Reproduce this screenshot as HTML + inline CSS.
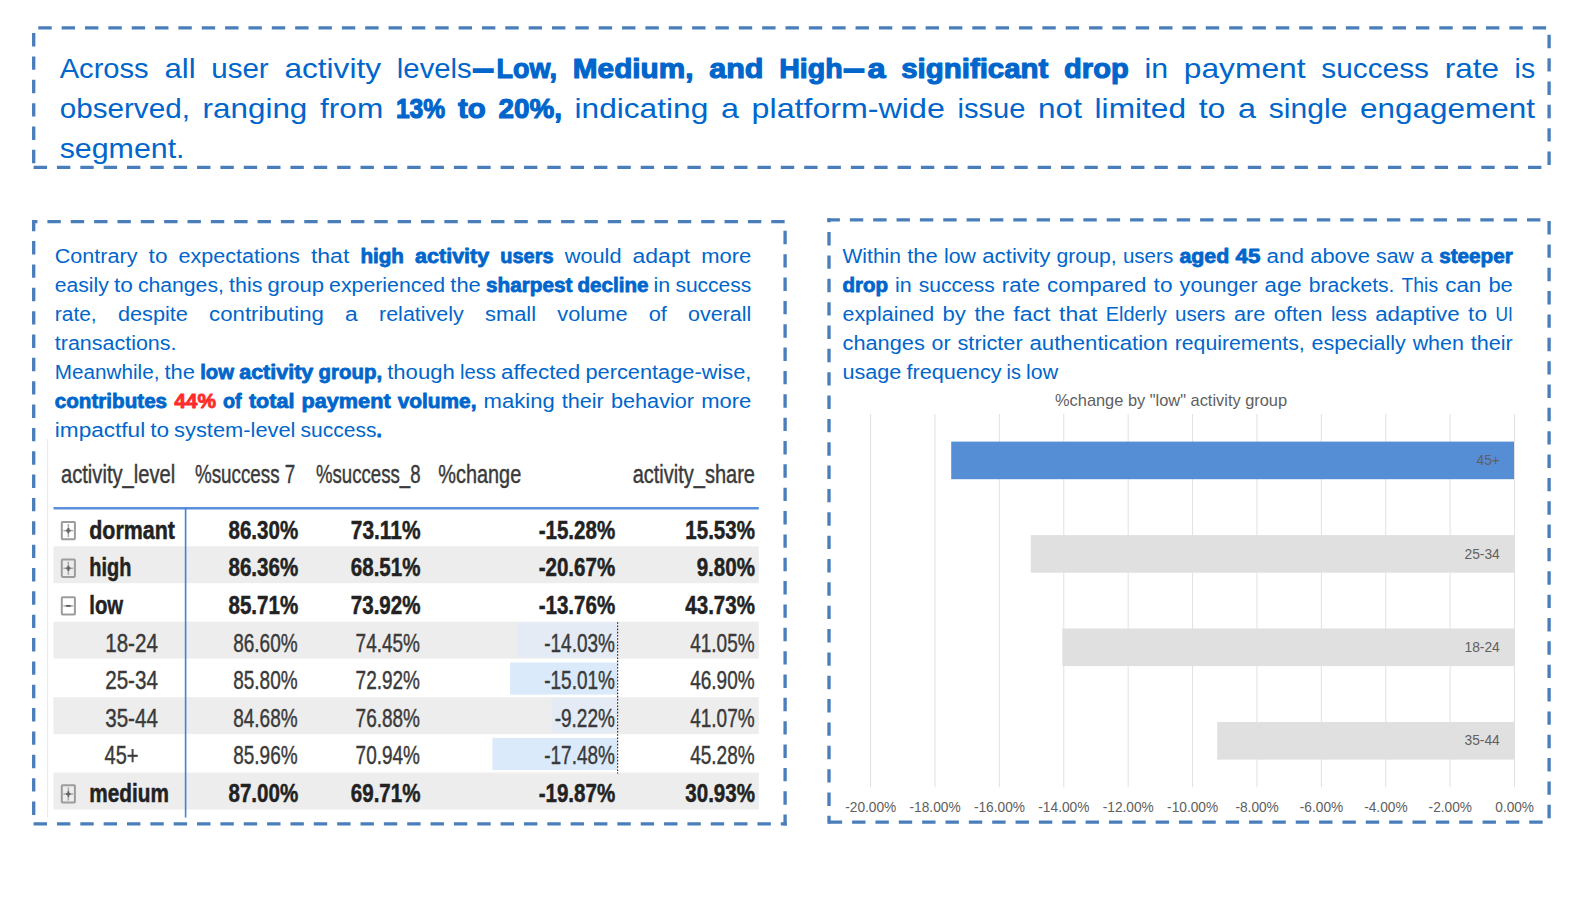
<!DOCTYPE html>
<html lang="en">
<head>
<meta charset="utf-8">
<title>Payment success rate drop by user activity level</title>
<style>
html,body{margin:0;padding:0;background:#ffffff}
body{width:1594px;height:897px;position:relative;overflow:hidden;font-family:"Liberation Sans",sans-serif}
svg{position:absolute;left:0;top:0;display:block}
.dash line{stroke:#4A7EBB;stroke-width:3.33;stroke-dasharray:13.4 9.95;fill:none}
.para text{font-family:"Liberation Sans",sans-serif;fill:#0066CC;white-space:pre}
.para .b{font-weight:700;stroke:#0066CC;stroke-width:.04em;stroke-linejoin:round}
.para .d{font-weight:700;stroke:#0066CC;stroke-width:2.2px}
.para .x{font-weight:700;fill:#FF2B2B;stroke:#FF2B2B;stroke-width:.04em;stroke-linejoin:round}
.tbl text{font-family:"Liberation Sans",sans-serif;fill:#3a3a3a;stroke:#3a3a3a;stroke-width:.45}
.tbl .bd{font-weight:700;fill:#222222;stroke:#222222;stroke-width:.5}
.chart text{font-family:"Liberation Sans",sans-serif;fill:#606060}
</style>
</head>
<body>
<svg width="1594" height="897" viewBox="0 0 1594 897">

<g class="dash">
<line x1="32.04" y1="27.90" x2="1550.76" y2="27.90" stroke-dashoffset="17.09"/>
<line x1="1549.10" y1="26.23" x2="1549.10" y2="169.06" stroke-dashoffset="14.79"/>
<line x1="32.04" y1="167.40" x2="1550.76" y2="167.40" stroke-dashoffset="21.79"/>
<line x1="33.70" y1="26.23" x2="33.70" y2="169.06" stroke-dashoffset="16.48"/>
<line x1="32.04" y1="221.60" x2="786.76" y2="221.60" stroke-dashoffset="7.99"/>
<line x1="785.10" y1="220.91" x2="785.10" y2="825.46" stroke-dashoffset="13.41"/>
<line x1="32.04" y1="823.80" x2="786.76" y2="823.80" stroke-dashoffset="21.79"/>
<line x1="33.70" y1="219.94" x2="33.70" y2="824.84" stroke-dashoffset="2.19"/>
<line x1="827.34" y1="219.90" x2="1550.34" y2="219.90" stroke-dashoffset="0.84"/>
<line x1="1549.10" y1="218.24" x2="1549.10" y2="823.71" stroke-dashoffset="20.54"/>
<line x1="827.34" y1="822.05" x2="1550.76" y2="822.05" stroke-dashoffset="21.94"/>
<line x1="829.00" y1="218.24" x2="829.00" y2="823.71" stroke-dashoffset="9.49"/>
</g>
<g class="para" font-size="28.00">
<text y="77.85"><tspan x="59.7" textLength="89.0" lengthAdjust="spacingAndGlyphs">Across</tspan> <tspan x="164.4" textLength="31.2" lengthAdjust="spacingAndGlyphs">all</tspan> <tspan x="211.2" textLength="57.5" lengthAdjust="spacingAndGlyphs">user</tspan> <tspan x="284.4" textLength="96.7" lengthAdjust="spacingAndGlyphs">activity</tspan> <tspan x="396.8" textLength="75.0" lengthAdjust="spacingAndGlyphs">levels</tspan><tspan class="d" x="473.5" textLength="19.4" lengthAdjust="spacingAndGlyphs">—</tspan><tspan class="b" x="496.6" textLength="60.5" lengthAdjust="spacingAndGlyphs">Low,</tspan> <tspan class="b" x="572.8" textLength="120.7" lengthAdjust="spacingAndGlyphs">Medium,</tspan> <tspan class="b" x="709.3" textLength="54.2" lengthAdjust="spacingAndGlyphs">and</tspan> <tspan class="b" x="779.2" textLength="63.4" lengthAdjust="spacingAndGlyphs">High</tspan><tspan class="d" x="844.2" textLength="19.4" lengthAdjust="spacingAndGlyphs">—</tspan><tspan class="b" x="867.4" textLength="18.1" lengthAdjust="spacingAndGlyphs">a</tspan> <tspan class="b" x="901.2" textLength="147.2" lengthAdjust="spacingAndGlyphs">significant</tspan> <tspan class="b" x="1064.1" textLength="64.6" lengthAdjust="spacingAndGlyphs">drop</tspan> <tspan x="1144.4" textLength="23.6" lengthAdjust="spacingAndGlyphs">in</tspan> <tspan x="1183.8" textLength="121.8" lengthAdjust="spacingAndGlyphs">payment</tspan> <tspan x="1321.3" textLength="107.7" lengthAdjust="spacingAndGlyphs">success</tspan> <tspan x="1444.7" textLength="54.2" lengthAdjust="spacingAndGlyphs">rate</tspan> <tspan x="1514.6" textLength="20.5" lengthAdjust="spacingAndGlyphs">is</tspan></text>
<text y="117.85"><tspan x="59.7" textLength="130.2" lengthAdjust="spacingAndGlyphs">observed,</tspan> <tspan x="202.6" textLength="104.7" lengthAdjust="spacingAndGlyphs">ranging</tspan> <tspan x="320.0" textLength="63.2" lengthAdjust="spacingAndGlyphs">from</tspan> <tspan class="b" x="395.9" textLength="49.3" lengthAdjust="spacingAndGlyphs">13%</tspan> <tspan class="b" x="457.9" textLength="27.8" lengthAdjust="spacingAndGlyphs">to</tspan> <tspan class="b" x="498.4" textLength="63.5" lengthAdjust="spacingAndGlyphs">20%,</tspan> <tspan x="574.5" textLength="133.8" lengthAdjust="spacingAndGlyphs">indicating</tspan> <tspan x="720.9" textLength="18.0" lengthAdjust="spacingAndGlyphs">a</tspan> <tspan x="751.6" textLength="193.2" lengthAdjust="spacingAndGlyphs">platform-wide</tspan> <tspan x="957.5" textLength="68.0" lengthAdjust="spacingAndGlyphs">issue</tspan> <tspan x="1038.1" textLength="43.8" lengthAdjust="spacingAndGlyphs">not</tspan> <tspan x="1094.6" textLength="91.4" lengthAdjust="spacingAndGlyphs">limited</tspan> <tspan x="1198.7" textLength="26.8" lengthAdjust="spacingAndGlyphs">to</tspan> <tspan x="1238.1" textLength="18.0" lengthAdjust="spacingAndGlyphs">a</tspan> <tspan x="1268.8" textLength="78.7" lengthAdjust="spacingAndGlyphs">single</tspan> <tspan x="1360.1" textLength="174.9" lengthAdjust="spacingAndGlyphs">engagement</tspan></text>
<text y="157.85"><tspan x="59.7" textLength="124.8" lengthAdjust="spacingAndGlyphs">segment.</tspan></text>
</g>
<g class="para" font-size="19.74">
<text y="262.90"><tspan x="54.8" textLength="82.7" lengthAdjust="spacingAndGlyphs">Contrary</tspan> <tspan x="148.6" textLength="18.9" lengthAdjust="spacingAndGlyphs">to</tspan> <tspan x="178.5" textLength="121.2" lengthAdjust="spacingAndGlyphs">expectations</tspan> <tspan x="310.9" textLength="38.4" lengthAdjust="spacingAndGlyphs">that</tspan> <tspan class="b" x="360.4" textLength="43.6" lengthAdjust="spacingAndGlyphs">high</tspan> <tspan class="b" x="415.1" textLength="74.1" lengthAdjust="spacingAndGlyphs">activity</tspan> <tspan class="b" x="500.3" textLength="53.2" lengthAdjust="spacingAndGlyphs">users</tspan> <tspan x="564.7" textLength="56.8" lengthAdjust="spacingAndGlyphs">would</tspan> <tspan x="632.5" textLength="57.6" lengthAdjust="spacingAndGlyphs">adapt</tspan> <tspan x="701.3" textLength="50.0" lengthAdjust="spacingAndGlyphs">more</tspan></text>
<text y="291.93"><tspan x="54.8" textLength="54.0" lengthAdjust="spacingAndGlyphs">easily</tspan> <tspan x="113.9" textLength="18.9" lengthAdjust="spacingAndGlyphs">to</tspan> <tspan x="137.9" textLength="86.0" lengthAdjust="spacingAndGlyphs">changes,</tspan> <tspan x="229.1" textLength="33.3" lengthAdjust="spacingAndGlyphs">this</tspan> <tspan x="267.5" textLength="56.5" lengthAdjust="spacingAndGlyphs">group</tspan> <tspan x="329.1" textLength="116.0" lengthAdjust="spacingAndGlyphs">experienced</tspan> <tspan x="450.3" textLength="30.5" lengthAdjust="spacingAndGlyphs">the</tspan> <tspan class="b" x="486.0" textLength="86.4" lengthAdjust="spacingAndGlyphs">sharpest</tspan> <tspan class="b" x="577.5" textLength="71.0" lengthAdjust="spacingAndGlyphs">decline</tspan> <tspan x="653.6" textLength="16.7" lengthAdjust="spacingAndGlyphs">in</tspan> <tspan x="675.4" textLength="75.9" lengthAdjust="spacingAndGlyphs">success</tspan></text>
<text y="320.96"><tspan x="54.8" textLength="41.9" lengthAdjust="spacingAndGlyphs">rate,</tspan> <tspan x="117.9" textLength="70.0" lengthAdjust="spacingAndGlyphs">despite</tspan> <tspan x="209.1" textLength="114.8" lengthAdjust="spacingAndGlyphs">contributing</tspan> <tspan x="345.1" textLength="12.7" lengthAdjust="spacingAndGlyphs">a</tspan> <tspan x="379.0" textLength="84.8" lengthAdjust="spacingAndGlyphs">relatively</tspan> <tspan x="485.0" textLength="51.1" lengthAdjust="spacingAndGlyphs">small</tspan> <tspan x="557.3" textLength="70.2" lengthAdjust="spacingAndGlyphs">volume</tspan> <tspan x="648.7" textLength="18.2" lengthAdjust="spacingAndGlyphs">of</tspan> <tspan x="688.1" textLength="63.2" lengthAdjust="spacingAndGlyphs">overall</tspan></text>
<text y="349.99"><tspan x="54.8" textLength="121.7" lengthAdjust="spacingAndGlyphs">transactions.</tspan></text>
<text y="379.02"><tspan x="54.8" textLength="104.6" lengthAdjust="spacingAndGlyphs">Meanwhile,</tspan> <tspan x="164.5" textLength="30.5" lengthAdjust="spacingAndGlyphs">the</tspan> <tspan class="b" x="200.2" textLength="33.8" lengthAdjust="spacingAndGlyphs">low</tspan> <tspan class="b" x="239.2" textLength="74.1" lengthAdjust="spacingAndGlyphs">activity</tspan> <tspan class="b" x="318.5" textLength="63.6" lengthAdjust="spacingAndGlyphs">group,</tspan> <tspan x="387.2" textLength="67.6" lengthAdjust="spacingAndGlyphs">though</tspan> <tspan x="460.0" textLength="35.9" lengthAdjust="spacingAndGlyphs">less</tspan> <tspan x="501.0" textLength="79.3" lengthAdjust="spacingAndGlyphs">affected</tspan> <tspan x="585.5" textLength="165.8" lengthAdjust="spacingAndGlyphs">percentage-wise,</tspan></text>
<text y="408.05"><tspan class="b" x="54.8" textLength="112.3" lengthAdjust="spacingAndGlyphs">contributes</tspan> <tspan class="x" x="174.2" textLength="41.8" lengthAdjust="spacingAndGlyphs">44%</tspan> <tspan class="b" x="223.0" textLength="18.7" lengthAdjust="spacingAndGlyphs">of</tspan> <tspan class="b" x="248.9" textLength="45.5" lengthAdjust="spacingAndGlyphs">total</tspan> <tspan class="b" x="301.5" textLength="89.1" lengthAdjust="spacingAndGlyphs">payment</tspan> <tspan class="b" x="397.7" textLength="78.8" lengthAdjust="spacingAndGlyphs">volume,</tspan> <tspan x="483.6" textLength="71.1" lengthAdjust="spacingAndGlyphs">making</tspan> <tspan x="561.7" textLength="42.1" lengthAdjust="spacingAndGlyphs">their</tspan> <tspan x="610.9" textLength="83.2" lengthAdjust="spacingAndGlyphs">behavior</tspan> <tspan x="701.3" textLength="50.0" lengthAdjust="spacingAndGlyphs">more</tspan></text>
<text y="437.08"><tspan x="54.8" textLength="90.4" lengthAdjust="spacingAndGlyphs">impactful</tspan> <tspan x="150.2" textLength="18.9" lengthAdjust="spacingAndGlyphs">to</tspan> <tspan x="174.1" textLength="121.4" lengthAdjust="spacingAndGlyphs">system-level</tspan> <tspan x="300.5" textLength="75.9" lengthAdjust="spacingAndGlyphs">success</tspan><tspan class="b" x="376.4" textLength="5.3" lengthAdjust="spacingAndGlyphs">.</tspan></text>
</g>
<g class="para" font-size="19.74">
<text y="262.90"><tspan x="842.5" textLength="58.5" lengthAdjust="spacingAndGlyphs">Within</tspan> <tspan x="907.2" textLength="30.5" lengthAdjust="spacingAndGlyphs">the</tspan> <tspan x="943.9" textLength="32.0" lengthAdjust="spacingAndGlyphs">low</tspan> <tspan x="982.2" textLength="68.1" lengthAdjust="spacingAndGlyphs">activity</tspan> <tspan x="1056.5" textLength="60.2" lengthAdjust="spacingAndGlyphs">group,</tspan> <tspan x="1122.9" textLength="50.3" lengthAdjust="spacingAndGlyphs">users</tspan> <tspan class="b" x="1179.4" textLength="49.8" lengthAdjust="spacingAndGlyphs">aged</tspan> <tspan class="b" x="1235.5" textLength="24.9" lengthAdjust="spacingAndGlyphs">45</tspan> <tspan x="1266.6" textLength="37.4" lengthAdjust="spacingAndGlyphs">and</tspan> <tspan x="1310.3" textLength="59.6" lengthAdjust="spacingAndGlyphs">above</tspan> <tspan x="1376.1" textLength="37.9" lengthAdjust="spacingAndGlyphs">saw</tspan> <tspan x="1420.2" textLength="12.7" lengthAdjust="spacingAndGlyphs">a</tspan> <tspan class="b" x="1439.2" textLength="73.6" lengthAdjust="spacingAndGlyphs">steeper</tspan></text>
<text y="291.93"><tspan class="b" x="842.5" textLength="45.5" lengthAdjust="spacingAndGlyphs">drop</tspan> <tspan x="895.1" textLength="16.7" lengthAdjust="spacingAndGlyphs">in</tspan> <tspan x="918.8" textLength="75.9" lengthAdjust="spacingAndGlyphs">success</tspan> <tspan x="1001.8" textLength="38.2" lengthAdjust="spacingAndGlyphs">rate</tspan> <tspan x="1047.0" textLength="99.5" lengthAdjust="spacingAndGlyphs">compared</tspan> <tspan x="1153.6" textLength="18.9" lengthAdjust="spacingAndGlyphs">to</tspan> <tspan x="1179.6" textLength="78.0" lengthAdjust="spacingAndGlyphs">younger</tspan> <tspan x="1264.6" textLength="37.1" lengthAdjust="spacingAndGlyphs">age</tspan> <tspan x="1308.8" textLength="85.7" lengthAdjust="spacingAndGlyphs">brackets.</tspan> <tspan x="1401.5" textLength="36.6" lengthAdjust="spacingAndGlyphs">This</tspan> <tspan x="1445.2" textLength="36.1" lengthAdjust="spacingAndGlyphs">can</tspan> <tspan x="1488.4" textLength="24.4" lengthAdjust="spacingAndGlyphs">be</tspan></text>
<text y="320.96"><tspan x="842.5" textLength="91.6" lengthAdjust="spacingAndGlyphs">explained</tspan> <tspan x="942.6" textLength="23.3" lengthAdjust="spacingAndGlyphs">by</tspan> <tspan x="974.4" textLength="30.5" lengthAdjust="spacingAndGlyphs">the</tspan> <tspan x="1013.3" textLength="37.1" lengthAdjust="spacingAndGlyphs">fact</tspan> <tspan x="1059.0" textLength="38.4" lengthAdjust="spacingAndGlyphs">that</tspan> <tspan x="1105.8" textLength="60.8" lengthAdjust="spacingAndGlyphs">Elderly</tspan> <tspan x="1175.1" textLength="50.3" lengthAdjust="spacingAndGlyphs">users</tspan> <tspan x="1233.9" textLength="31.4" lengthAdjust="spacingAndGlyphs">are</tspan> <tspan x="1273.7" textLength="48.7" lengthAdjust="spacingAndGlyphs">often</tspan> <tspan x="1330.9" textLength="35.9" lengthAdjust="spacingAndGlyphs">less</tspan> <tspan x="1375.2" textLength="84.4" lengthAdjust="spacingAndGlyphs">adaptive</tspan> <tspan x="1468.1" textLength="18.9" lengthAdjust="spacingAndGlyphs">to</tspan> <tspan x="1495.5" textLength="17.3" lengthAdjust="spacingAndGlyphs">UI</tspan></text>
<text y="349.99"><tspan x="842.5" textLength="82.3" lengthAdjust="spacingAndGlyphs">changes</tspan> <tspan x="931.6" textLength="19.0" lengthAdjust="spacingAndGlyphs">or</tspan> <tspan x="957.5" textLength="65.2" lengthAdjust="spacingAndGlyphs">stricter</tspan> <tspan x="1029.5" textLength="138.3" lengthAdjust="spacingAndGlyphs">authentication</tspan> <tspan x="1174.7" textLength="130.0" lengthAdjust="spacingAndGlyphs">requirements,</tspan> <tspan x="1311.5" textLength="94.3" lengthAdjust="spacingAndGlyphs">especially</tspan> <tspan x="1412.7" textLength="51.1" lengthAdjust="spacingAndGlyphs">when</tspan> <tspan x="1470.7" textLength="42.1" lengthAdjust="spacingAndGlyphs">their</tspan></text>
<text y="379.02"><tspan x="842.5" textLength="58.9" lengthAdjust="spacingAndGlyphs">usage</tspan> <tspan x="906.4" textLength="95.2" lengthAdjust="spacingAndGlyphs">frequency</tspan> <tspan x="1006.6" textLength="14.4" lengthAdjust="spacingAndGlyphs">is</tspan> <tspan x="1026.0" textLength="32.1" lengthAdjust="spacingAndGlyphs">low</tspan></text>
</g>
<g class="tbl">
<line x1="47.6" y1="439" x2="47.6" y2="817.5" stroke="#e9e9e9" stroke-width="1"/>
<rect x="53.5" y="546.3" width="705.3" height="36.9" fill="#ededed"/>
<rect x="53.5" y="621.7" width="705.3" height="36.9" fill="#ededed"/>
<rect x="53.5" y="697.2" width="705.3" height="36.9" fill="#ededed"/>
<rect x="53.5" y="772.6" width="705.3" height="36.9" fill="#ededed"/>
<rect x="517.1" y="622.3" width="100.5" height="35.4" fill="#e4ebf5"/>
<rect x="510.1" y="662.5" width="107.5" height="32.1" fill="#daeafb"/>
<rect x="551.6" y="697.8" width="66.0" height="35.4" fill="#e4ebf5"/>
<rect x="492.4" y="737.9" width="125.2" height="32.1" fill="#daeafb"/>
<line x1="617.6" y1="622.2" x2="617.6" y2="773.4" stroke="#333" stroke-width="1.2" stroke-dasharray="1.6 1.6"/>
<line x1="53.5" y1="508.2" x2="758.8" y2="508.2" stroke="#5a8fdc" stroke-width="2.6"/>
<line x1="185.6" y1="508" x2="185.6" y2="817.5" stroke="#3f83d6" stroke-width="1.6"/>
<text x="61.0" y="483.2" font-size="26.6" textLength="114.2" lengthAdjust="spacingAndGlyphs">activity_level</text>
<text x="195.0" y="483.2" font-size="26.6" textLength="100.3" lengthAdjust="spacingAndGlyphs">%success 7</text>
<text x="316.0" y="483.2" font-size="26.6" textLength="104.5" lengthAdjust="spacingAndGlyphs">%success_8</text>
<text x="438.3" y="483.2" font-size="26.6" textLength="82.9" lengthAdjust="spacingAndGlyphs">%change</text>
<text x="632.7" y="483.2" font-size="26.6" textLength="122.3" lengthAdjust="spacingAndGlyphs">activity_share</text>
<text class="bd" x="89.3" y="538.5" font-size="26.2" textLength="85.6" lengthAdjust="spacingAndGlyphs">dormant</text>
<g fill="none"><rect x="61.8" y="522.0" width="13.1" height="17.3" rx="0.8" stroke="#9c9c9c" stroke-width="2"/>
<path d="M63.4 530.6H73.3" stroke="#a8a8a8" stroke-width="1.5"/>
<path d="M66.1 530.6H70.6" stroke="#606060" stroke-width="1.9"/>
<path d="M68.35 524.0V537.2" stroke="#a8a8a8" stroke-width="1.5"/>
<path d="M68.35 528.0V533.2" stroke="#606060" stroke-width="1.9"/>
</g>
<text class="bd" x="228.5" y="538.5" font-size="26.2" textLength="69.7" lengthAdjust="spacingAndGlyphs">86.30%</text>
<text class="bd" x="350.8" y="538.5" font-size="26.2" textLength="69.7" lengthAdjust="spacingAndGlyphs">73.11%</text>
<text class="bd" x="538.7" y="538.5" font-size="26.2" textLength="76.5" lengthAdjust="spacingAndGlyphs">-15.28%</text>
<text class="bd" x="685.3" y="538.5" font-size="26.2" textLength="69.7" lengthAdjust="spacingAndGlyphs">15.53%</text>
<text class="bd" x="89.3" y="576.1" font-size="26.2" textLength="42.0" lengthAdjust="spacingAndGlyphs">high</text>
<g fill="none"><rect x="61.8" y="559.6" width="13.1" height="17.3" rx="0.8" stroke="#9c9c9c" stroke-width="2"/>
<path d="M63.4 568.3H73.3" stroke="#a8a8a8" stroke-width="1.5"/>
<path d="M66.1 568.3H70.6" stroke="#606060" stroke-width="1.9"/>
<path d="M68.35 561.7V574.9" stroke="#a8a8a8" stroke-width="1.5"/>
<path d="M68.35 565.7V570.9" stroke="#606060" stroke-width="1.9"/>
</g>
<text class="bd" x="228.5" y="576.1" font-size="26.2" textLength="69.7" lengthAdjust="spacingAndGlyphs">86.36%</text>
<text class="bd" x="350.8" y="576.1" font-size="26.2" textLength="69.7" lengthAdjust="spacingAndGlyphs">68.51%</text>
<text class="bd" x="538.7" y="576.1" font-size="26.2" textLength="76.5" lengthAdjust="spacingAndGlyphs">-20.67%</text>
<text class="bd" x="696.7" y="576.1" font-size="26.2" textLength="58.3" lengthAdjust="spacingAndGlyphs">9.80%</text>
<text class="bd" x="89.3" y="613.7" font-size="26.2" textLength="33.9" lengthAdjust="spacingAndGlyphs">low</text>
<g fill="none"><rect x="61.8" y="597.2" width="13.1" height="17.3" rx="0.8" stroke="#9c9c9c" stroke-width="2"/>
<path d="M63.4 605.9H73.3" stroke="#a8a8a8" stroke-width="1.5"/>
<path d="M66.1 605.9H70.6" stroke="#606060" stroke-width="1.9"/>
</g>
<text class="bd" x="228.5" y="613.7" font-size="26.2" textLength="69.7" lengthAdjust="spacingAndGlyphs">85.71%</text>
<text class="bd" x="350.8" y="613.7" font-size="26.2" textLength="69.7" lengthAdjust="spacingAndGlyphs">73.92%</text>
<text class="bd" x="538.7" y="613.7" font-size="26.2" textLength="76.5" lengthAdjust="spacingAndGlyphs">-13.76%</text>
<text class="bd" x="685.3" y="613.7" font-size="26.2" textLength="69.7" lengthAdjust="spacingAndGlyphs">43.73%</text>
<text x="105.2" y="651.6" font-size="26.4" textLength="52.7" lengthAdjust="spacingAndGlyphs">18-24</text>
<text x="233.2" y="651.6" font-size="26.4" textLength="64.4" lengthAdjust="spacingAndGlyphs">86.60%</text>
<text x="355.6" y="651.6" font-size="26.4" textLength="64.4" lengthAdjust="spacingAndGlyphs">74.45%</text>
<text x="544.2" y="651.6" font-size="26.4" textLength="70.7" lengthAdjust="spacingAndGlyphs">-14.03%</text>
<text x="690.2" y="651.6" font-size="26.4" textLength="64.4" lengthAdjust="spacingAndGlyphs">41.05%</text>
<text x="105.2" y="689.2" font-size="26.4" textLength="52.7" lengthAdjust="spacingAndGlyphs">25-34</text>
<text x="233.2" y="689.2" font-size="26.4" textLength="64.4" lengthAdjust="spacingAndGlyphs">85.80%</text>
<text x="355.6" y="689.2" font-size="26.4" textLength="64.4" lengthAdjust="spacingAndGlyphs">72.92%</text>
<text x="544.2" y="689.2" font-size="26.4" textLength="70.7" lengthAdjust="spacingAndGlyphs">-15.01%</text>
<text x="690.2" y="689.2" font-size="26.4" textLength="64.4" lengthAdjust="spacingAndGlyphs">46.90%</text>
<text x="105.2" y="726.8" font-size="26.4" textLength="52.7" lengthAdjust="spacingAndGlyphs">35-44</text>
<text x="233.2" y="726.8" font-size="26.4" textLength="64.4" lengthAdjust="spacingAndGlyphs">84.68%</text>
<text x="355.6" y="726.8" font-size="26.4" textLength="64.4" lengthAdjust="spacingAndGlyphs">76.88%</text>
<text x="554.7" y="726.8" font-size="26.4" textLength="60.2" lengthAdjust="spacingAndGlyphs">-9.22%</text>
<text x="690.2" y="726.8" font-size="26.4" textLength="64.4" lengthAdjust="spacingAndGlyphs">41.07%</text>
<text x="104.6" y="764.4" font-size="26.4" textLength="33.9" lengthAdjust="spacingAndGlyphs">45+</text>
<text x="233.2" y="764.4" font-size="26.4" textLength="64.4" lengthAdjust="spacingAndGlyphs">85.96%</text>
<text x="355.6" y="764.4" font-size="26.4" textLength="64.4" lengthAdjust="spacingAndGlyphs">70.94%</text>
<text x="544.2" y="764.4" font-size="26.4" textLength="70.7" lengthAdjust="spacingAndGlyphs">-17.48%</text>
<text x="690.2" y="764.4" font-size="26.4" textLength="64.4" lengthAdjust="spacingAndGlyphs">45.28%</text>
<text class="bd" x="89.3" y="801.8" font-size="26.2" textLength="79.6" lengthAdjust="spacingAndGlyphs">medium</text>
<g fill="none"><rect x="61.8" y="785.3" width="13.1" height="17.3" rx="0.8" stroke="#9c9c9c" stroke-width="2"/>
<path d="M63.4 794.0H73.3" stroke="#a8a8a8" stroke-width="1.5"/>
<path d="M66.1 794.0H70.6" stroke="#606060" stroke-width="1.9"/>
<path d="M68.35 787.4V800.6" stroke="#a8a8a8" stroke-width="1.5"/>
<path d="M68.35 791.4V796.6" stroke="#606060" stroke-width="1.9"/>
</g>
<text class="bd" x="228.5" y="801.8" font-size="26.2" textLength="69.7" lengthAdjust="spacingAndGlyphs">87.00%</text>
<text class="bd" x="350.8" y="801.8" font-size="26.2" textLength="69.7" lengthAdjust="spacingAndGlyphs">69.71%</text>
<text class="bd" x="538.7" y="801.8" font-size="26.2" textLength="76.5" lengthAdjust="spacingAndGlyphs">-19.87%</text>
<text class="bd" x="685.3" y="801.8" font-size="26.2" textLength="69.7" lengthAdjust="spacingAndGlyphs">30.93%</text>
</g>
<g class="chart">
<line x1="870.60" y1="414" x2="870.60" y2="787.3" stroke="#e1e1e1" stroke-width="1"/>
<line x1="935.00" y1="414" x2="935.00" y2="787.3" stroke="#e1e1e1" stroke-width="1"/>
<line x1="999.39" y1="414" x2="999.39" y2="787.3" stroke="#e1e1e1" stroke-width="1"/>
<line x1="1063.79" y1="414" x2="1063.79" y2="787.3" stroke="#e1e1e1" stroke-width="1"/>
<line x1="1128.18" y1="414" x2="1128.18" y2="787.3" stroke="#e1e1e1" stroke-width="1"/>
<line x1="1192.58" y1="414" x2="1192.58" y2="787.3" stroke="#e1e1e1" stroke-width="1"/>
<line x1="1256.97" y1="414" x2="1256.97" y2="787.3" stroke="#e1e1e1" stroke-width="1"/>
<line x1="1321.37" y1="414" x2="1321.37" y2="787.3" stroke="#e1e1e1" stroke-width="1"/>
<line x1="1385.76" y1="414" x2="1385.76" y2="787.3" stroke="#e1e1e1" stroke-width="1"/>
<line x1="1450.15" y1="414" x2="1450.15" y2="787.3" stroke="#e1e1e1" stroke-width="1"/>
<line x1="1514.55" y1="414" x2="1514.55" y2="787.3" stroke="#e1e1e1" stroke-width="1"/>
<rect x="951.2" y="441.6" width="562.8" height="37.6" fill="#558ed5"/>
<text x="1476.6" y="465.0" font-size="14.2" textLength="23.2" lengthAdjust="spacingAndGlyphs">45+</text>
<rect x="1030.8" y="535.1" width="483.3" height="37.6" fill="#e0e0e0"/>
<text x="1464.5" y="558.5" font-size="14.2" textLength="35.3" lengthAdjust="spacingAndGlyphs">25-34</text>
<rect x="1062.3" y="628.5" width="451.7" height="37.6" fill="#e0e0e0"/>
<text x="1464.5" y="651.9" font-size="14.2" textLength="35.3" lengthAdjust="spacingAndGlyphs">18-24</text>
<rect x="1217.2" y="722.0" width="296.9" height="37.6" fill="#e0e0e0"/>
<text x="1464.5" y="745.4" font-size="14.2" textLength="35.3" lengthAdjust="spacingAndGlyphs">35-44</text>
<text x="1055" y="405.9" font-size="16.6" textLength="232.1" lengthAdjust="spacingAndGlyphs">%change by &quot;low&quot; activity group</text>
<text x="845.2" y="812.2" font-size="14.2" textLength="51.1" lengthAdjust="spacingAndGlyphs">-20.00%</text>
<text x="909.5" y="812.2" font-size="14.2" textLength="51.1" lengthAdjust="spacingAndGlyphs">-18.00%</text>
<text x="973.9" y="812.2" font-size="14.2" textLength="51.1" lengthAdjust="spacingAndGlyphs">-16.00%</text>
<text x="1038.3" y="812.2" font-size="14.2" textLength="51.1" lengthAdjust="spacingAndGlyphs">-14.00%</text>
<text x="1102.7" y="812.2" font-size="14.2" textLength="51.1" lengthAdjust="spacingAndGlyphs">-12.00%</text>
<text x="1167.1" y="812.2" font-size="14.2" textLength="51.1" lengthAdjust="spacingAndGlyphs">-10.00%</text>
<text x="1235.4" y="812.2" font-size="14.2" textLength="43.4" lengthAdjust="spacingAndGlyphs">-8.00%</text>
<text x="1299.8" y="812.2" font-size="14.2" textLength="43.4" lengthAdjust="spacingAndGlyphs">-6.00%</text>
<text x="1364.2" y="812.2" font-size="14.2" textLength="43.4" lengthAdjust="spacingAndGlyphs">-4.00%</text>
<text x="1428.6" y="812.2" font-size="14.2" textLength="43.4" lengthAdjust="spacingAndGlyphs">-2.00%</text>
<text x="1495.3" y="812.2" font-size="14.2" textLength="38.7" lengthAdjust="spacingAndGlyphs">0.00%</text>
</g>
</svg>
</body>
</html>
